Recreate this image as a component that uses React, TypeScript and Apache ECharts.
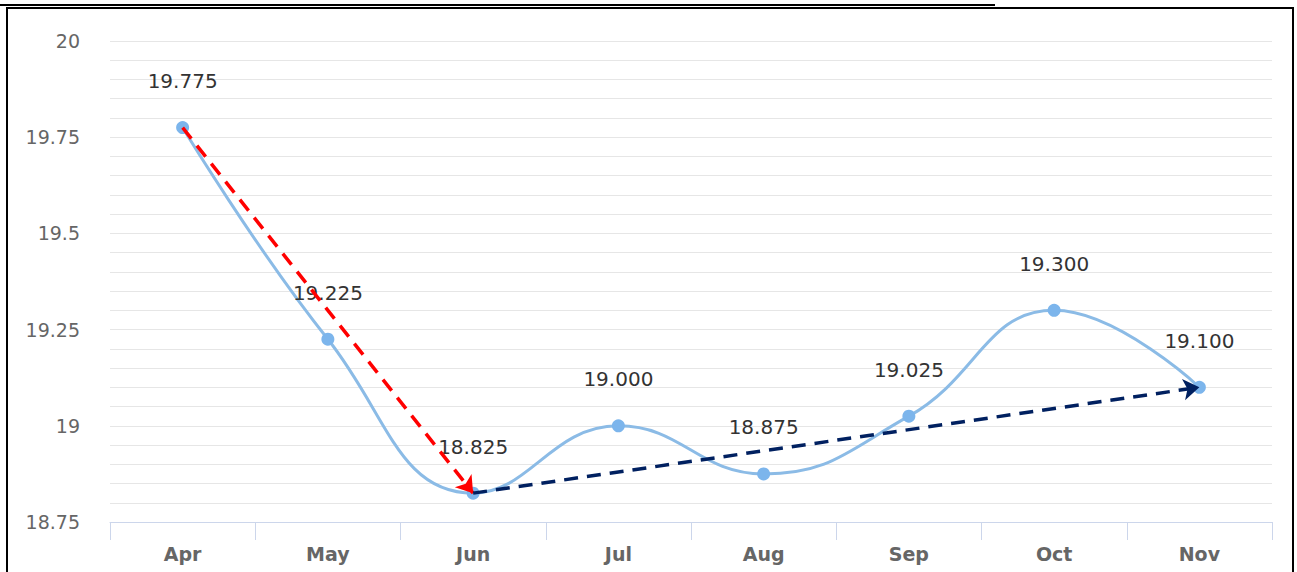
import React, { useEffect, useRef } from "react";
import * as echarts from "echarts";

const months = ["Apr", "May", "Jun", "Jul", "Aug", "Sep", "Oct", "Nov"];
const values = [19.775, 19.225, 18.825, 19.0, 18.875, 19.025, 19.3, 19.1];
const yTickLabels = [18.75, 19, 19.25, 19.5, 19.75, 20];
const declineArrow = [
  ["Apr", 19.775],
  ["Jun", 18.825],
];
const recoveryArrow = [
  ["Jun", 18.825],
  ["Nov", 19.1],
];

export default function App() {
  const ref = useRef<HTMLDivElement>(null);
  useEffect(() => {
    if (!ref.current) return;
    const chart = echarts.init(ref.current, undefined, { renderer: "svg" });
    const font = "'DejaVu Sans', Verdana, sans-serif";
    chart.setOption({
      animation: false,
      backgroundColor: "#ffffff",
      grid: { left: 110, right: 25, top: 41, bottom: 50 },
      graphic: [
        {
          type: "rect",
          z: -1,
          shape: { x: 7, y: 8, width: 1286, height: 620 },
          style: { fill: "none", stroke: "#000000", lineWidth: 2 },
        },
        {
          type: "line",
          shape: { x1: 0, y1: 5, x2: 995, y2: 5 },
          style: { stroke: "#000000", lineWidth: 2 },
        },
      ],
      xAxis: {
        type: "category",
        data: months,
        boundaryGap: true,
        axisLine: { lineStyle: { color: "#ccd6eb", width: 1 } },
        axisTick: { show: true, length: 18, lineStyle: { color: "#ccd6eb" } },
        axisLabel: {
          color: "#666666",
          fontFamily: font,
          fontSize: 19,
          fontWeight: "bold",
          margin: 22,
        },
        splitLine: { show: false },
      },
      yAxis: {
        type: "value",
        min: 18.75,
        max: 20,
        interval: 0.05,
        axisLine: { show: false },
        axisTick: { show: false },
        axisLabel: {
          color: "#666666",
          fontFamily: font,
          fontSize: 19,
          margin: 30,
          formatter: (v: number) => {
            const hit = yTickLabels.find((t) => Math.abs(t - v) < 1e-6);
            return hit === undefined ? "" : String(hit);
          },
        },
        splitLine: { show: true, lineStyle: { color: "#e6e6e6", width: 1 } },
      },
      series: [
        {
          type: "line",
          data: values,
          smooth: 0.45,
          symbol: "circle",
          symbolSize: 13,
          itemStyle: { color: "#7cb5ec" },
          lineStyle: { color: "#8bbbe6", width: 3 },
          label: {
            show: true,
            position: "top",
            distance: 30,
            color: "#333333",
            fontFamily: font,
            fontSize: 20,
            formatter: (p: any) => Number(p.value).toFixed(3),
          },
          z: 2,
        },
        {
          type: "line",
          data: [],
          silent: true,
          z: 5,
          markLine: {
            silent: true,
            animation: false,
            symbol: ["none", "arrow"],
            symbolSize: 16,
            label: { show: false },
            data: [
              [
                {
                  coord: declineArrow[0],
                  lineStyle: { color: "#ff0000", width: 3.5, type: [14, 9] },
                  itemStyle: { color: "#ff0000" },
                },
                {
                  coord: declineArrow[1],
                  itemStyle: { color: "#ff0000" },
                },
              ],
              [
                {
                  coord: recoveryArrow[0],
                  lineStyle: { color: "#002060", width: 3.5, type: [14, 9] },
                  itemStyle: { color: "#002060" },
                },
                {
                  coord: recoveryArrow[1],
                  itemStyle: { color: "#002060" },
                },
              ],
            ],
          },
        },
      ],
    });
    return () => chart.dispose();
  }, []);
  return (
    <div
      ref={ref}
      style={{ position: "fixed", left: 0, top: 0, width: 1297, height: 572 }}
    />
  );
}
